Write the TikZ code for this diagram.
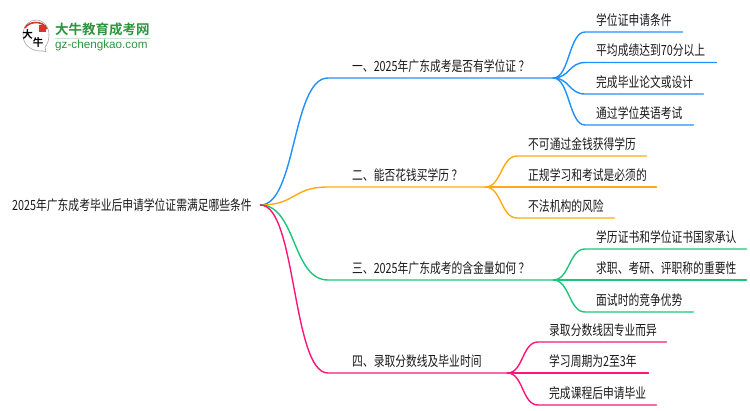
\documentclass[tikz,border=0pt]{standalone}
\usepackage{fontspec}
\setmainfont[FakeStretch=0.77]{Noto Sans CJK SC}
\newfontfamily\logofont{Noto Sans CJK SC Bold}
\newfontfamily\urlfont{Liberation Sans}
\definecolor{lineblue}{HTML}{1E90FF}
\definecolor{lineorange}{HTML}{FFAA14}
\definecolor{linegreen}{HTML}{1DC47C}
\definecolor{linepink}{HTML}{FF1478}
\definecolor{logogreen}{HTML}{2E9440}
\definecolor{logored}{HTML}{D8352A}
\tikzset{
	label/.style={anchor=south west, inner xsep=0pt, inner ysep=5.5pt, text=black!90, font=\fontsize{14}{16}\selectfont},
	wire/.style={line width=1.4pt, line cap=round},
}
\begin{document}
\begin{tikzpicture}[x=1pt, y=-1pt]
	\useasboundingbox (0,0) rectangle (750,410);

	% 左上のロゴ
	\draw[black!35, line width=0.6pt, fill=white] (43,51) .. controls (33,52) and (23,46) .. (23,35) .. controls (23,26) and (29,20) .. (36,20) .. controls (44,20) and (49,27) .. (49,35) .. controls (49,41) and (47,45) .. (45,47) -- (46,52) -- cycle;
	\draw[logored, line width=1.6pt] (25,28) .. controls (28,22) and (42,19) .. (47,29);
	\fill[logored] (39,25) rectangle (46,32);
	\node[inner sep=0pt, font=\logofont\fontsize{10.5}{11}\selectfont] (logoa) at (27.5,34.5) {大};
	\node[inner sep=0pt, font=\logofont\fontsize{10.5}{11}\selectfont] (logob) at (38.2,42.5) {牛};
	\node[anchor=west, inner sep=0pt, text=logogreen, font=\logofont\fontsize{13.5}{14}\selectfont] (logotitle) at (55,29.5) {大牛教育成考网};
	\node[anchor=west, inner sep=0pt, text=logogreen, font=\urlfont\fontsize{11.7}{12}\selectfont] (logourl) at (55,45) {gz-chengkao.com};
	\draw[logogreen!25, line width=0.8pt] (logotitle.south west) ++(0,2) -- ++(95,0);

	% 中心
	\node[label, anchor=west, inner ysep=0pt, text width=248pt] (root) at (12,205) {2025年广东成考毕业后申请学位证需满足哪些条件};

	% 枝
	\node[label, text width=225pt] (one) at (328,78) {\hspace*{24pt}一、2025年广东成考是否有学位证\,？};
	\node[label, text width=157pt] (two) at (328,187) {\hspace*{24pt}二、能否花钱买学历\,？};
	\node[label, text width=225pt] (three) at (328,280) {\hspace*{24pt}三、2025年广东成考的含金量如何\,？};
	\node[label, text width=179pt] (four) at (328,373) {\hspace*{24pt}四、录取分数线及毕业时间};

	% 葉
	\node[label, text width=97pt] (a1) at (585,32) {\hspace*{11pt}学位证申请条件};
	\node[label, text width=131pt] (a2) at (585,62.5) {\hspace*{11pt}平均成绩达到70分以上};
	\node[label, text width=118pt] (a3) at (585,94) {\hspace*{11pt}完成毕业论文或设计};
	\node[label, text width=108pt] (a4) at (585,125) {\hspace*{11pt}通过学位英语考试};

	\node[label, text width=129pt] (b1) at (517,156) {\hspace*{11pt}不可通过金钱获得学历};
	\node[label, text width=139pt] (b2) at (517,187) {\hspace*{11pt}正规学习和考试是必须的};
	\node[label, text width=97pt] (b3) at (517,218) {\hspace*{11pt}不法机构的风险};

	\node[label, text width=161pt] (c1) at (585,249) {\hspace*{11pt}学历证书和学位证书国家承认};
	\node[label, text width=161pt] (c2) at (585,280) {\hspace*{11pt}求职、考研、评职称的重要性};
	\node[label, text width=108pt] (c3) at (585,312) {\hspace*{11pt}面试时的竞争优势};

	\node[label, text width=128pt] (d1) at (538,342) {\hspace*{11pt}录取分数线因专业而异};
	\node[label, text width=110pt] (d2) at (538,373) {\hspace*{11pt}学习周期为2至3年};
	\node[label, text width=118pt] (d3) at (538,405) {\hspace*{11pt}完成课程后申请毕业};

	% 線
	\draw[wire, lineblue] (root.east) .. controls +(36,0) and +(-36,0) .. (one.south west) -- (one.south east);
	\draw[wire, lineorange] (root.east) .. controls +(36,0) and +(-36,0) .. (two.south west) -- (two.south east);
	\draw[wire, linegreen] (root.east) .. controls +(36,0) and +(-36,0) .. (three.south west) -- (three.south east);
	\draw[wire, linepink] (root.east) .. controls +(36,0) and +(-36,0) .. (four.south west) -- (four.south east);

	\foreach \leaf in {a1,a2,a3,a4}
		\draw[wire, lineblue] (one.south east) .. controls +(16,0) and +(-16,0) .. (\leaf.south west) -- (\leaf.south east);
	\foreach \leaf in {b1,b2,b3}
		\draw[wire, lineorange] (two.south east) .. controls +(16,0) and +(-16,0) .. (\leaf.south west) -- (\leaf.south east);
	\foreach \leaf in {c1,c2,c3}
		\draw[wire, linegreen] (three.south east) .. controls +(16,0) and +(-16,0) .. (\leaf.south west) -- (\leaf.south east);
	\foreach \leaf in {d1,d2,d3}
		\draw[wire, linepink] (four.south east) .. controls +(16,0) and +(-16,0) .. (\leaf.south west) -- (\leaf.south east);
\end{tikzpicture}
\end{document}
